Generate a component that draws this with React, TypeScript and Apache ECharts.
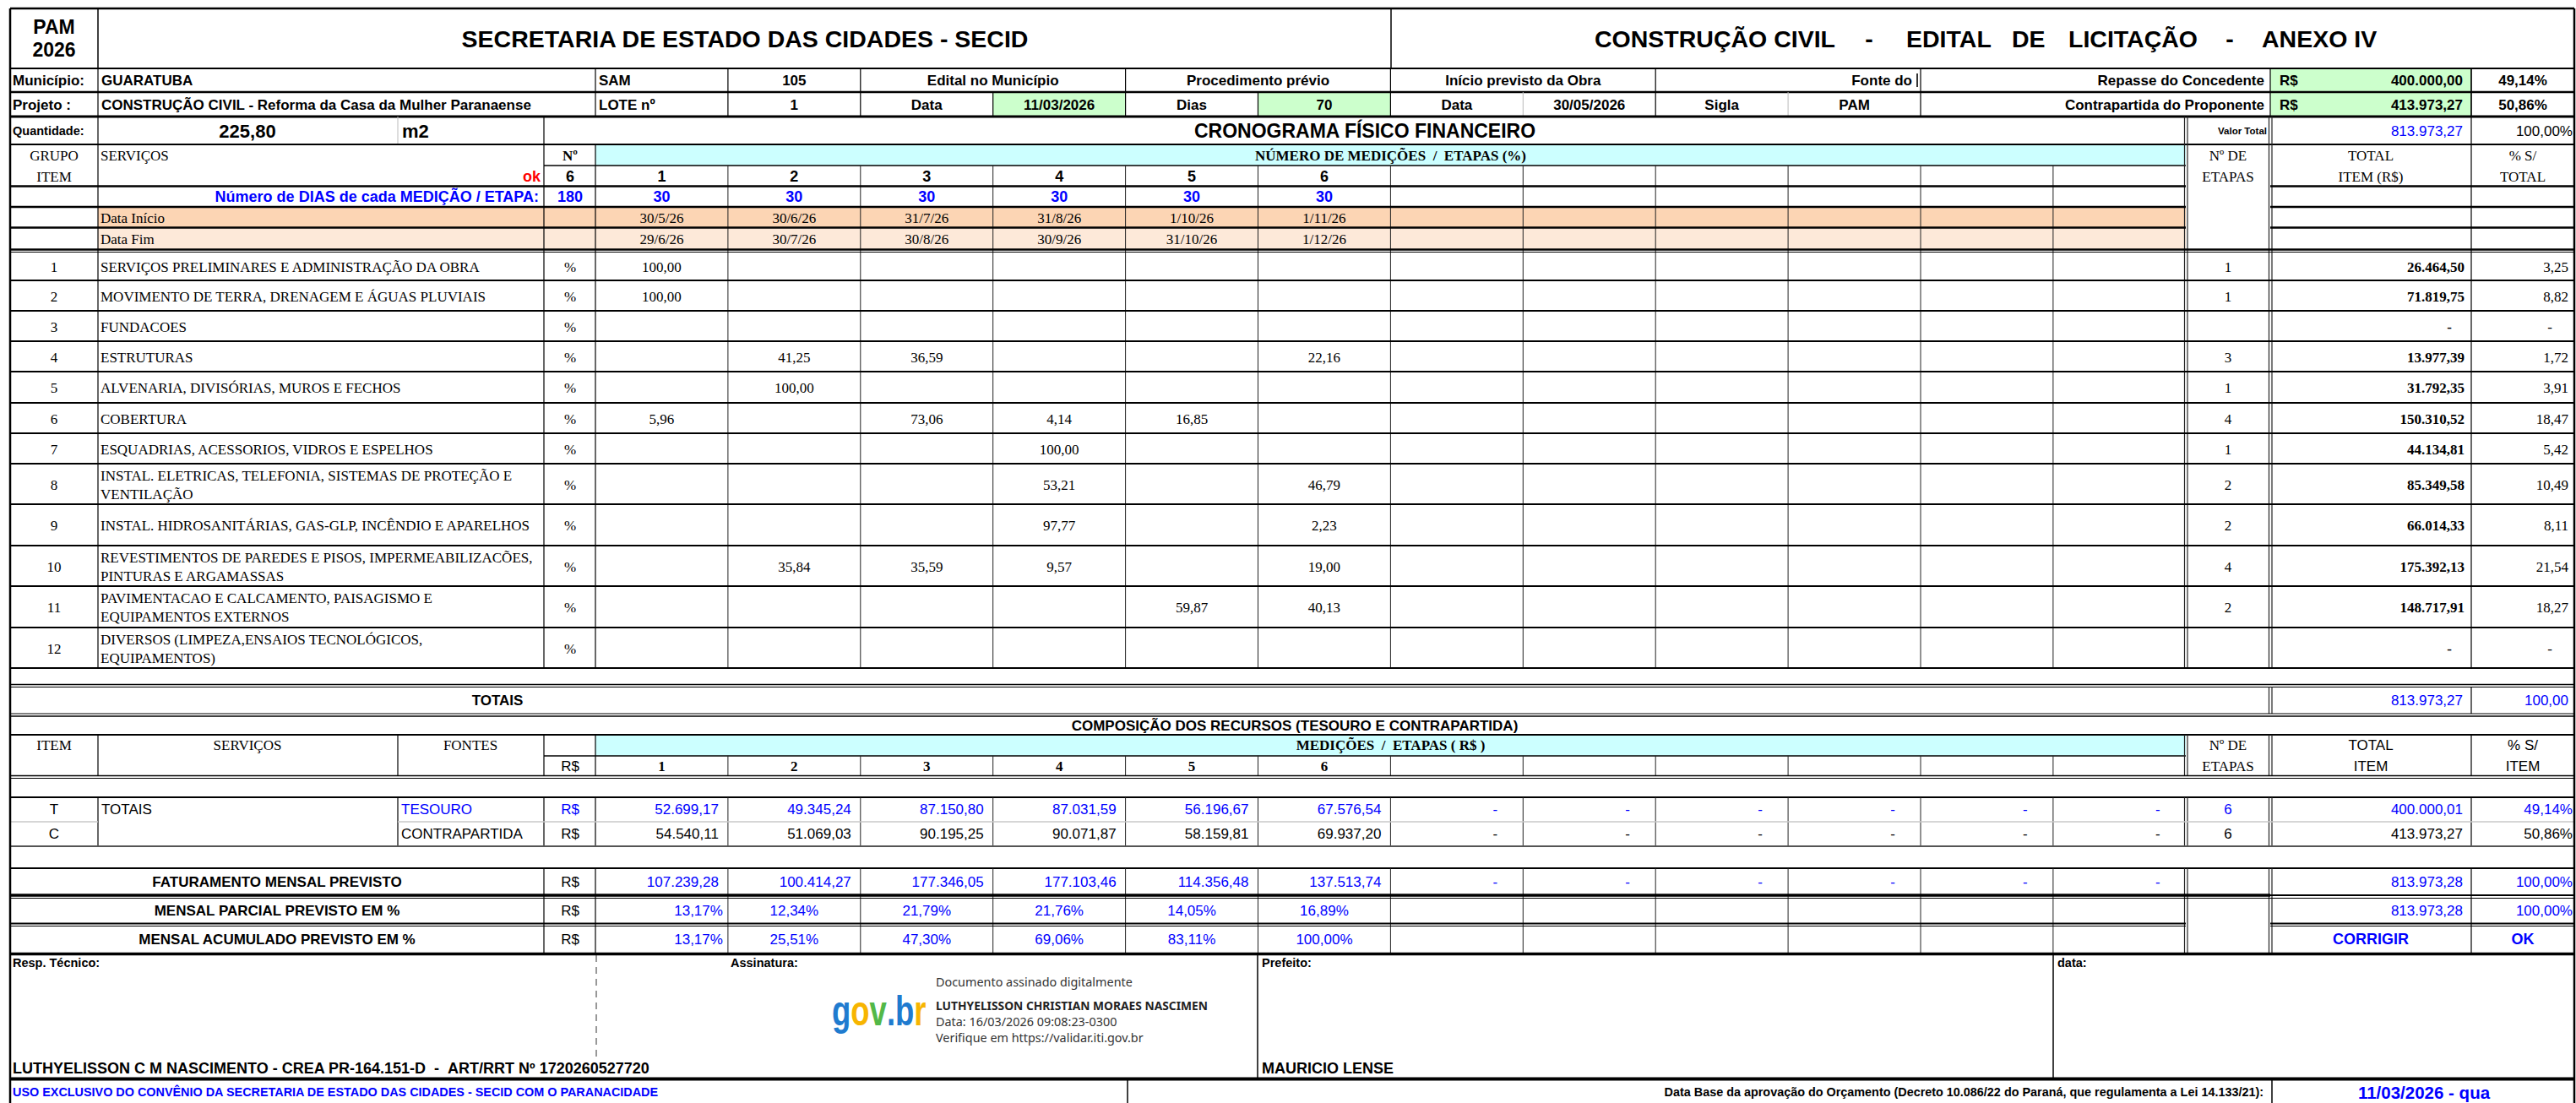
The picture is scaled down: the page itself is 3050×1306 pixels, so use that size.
import React, { useEffect, useRef } from "react";
import * as echarts from "echarts";

// ---------------- DATA ----------------
const medicaoNumeros = [1, 2, 3, 4, 5, 6];
const diasPorEtapa = [30, 30, 30, 30, 30, 30];
const totalDias = 180;
const dataInicio = ["30/5/26", "30/6/26", "31/7/26", "31/8/26", "1/10/26", "1/11/26"];
const dataFim = ["29/6/26", "30/7/26", "30/8/26", "30/9/26", "31/10/26", "1/12/26"];

const itemGrupos = [1, 2, 3, 4, 5, 6, 7, 8, 9, 10, 11, 12];
const itemServicos = [
  "SERVIÇOS PRELIMINARES E ADMINISTRAÇÃO DA OBRA",
  "MOVIMENTO DE TERRA, DRENAGEM E ÁGUAS PLUVIAIS",
  "FUNDACOES",
  "ESTRUTURAS",
  "ALVENARIA, DIVISÓRIAS, MUROS E FECHOS",
  "COBERTURA",
  "ESQUADRIAS, ACESSORIOS, VIDROS E ESPELHOS",
  "INSTAL. ELETRICAS, TELEFONIA, SISTEMAS DE PROTEÇÃO E\nVENTILAÇÃO",
  "INSTAL. HIDROSANITÁRIAS, GAS-GLP, INCÊNDIO E APARELHOS",
  "REVESTIMENTOS DE PAREDES E PISOS, IMPERMEABILIZACÕES,\nPINTURAS E ARGAMASSAS",
  "PAVIMENTACAO E CALCAMENTO, PAISAGISMO E\nEQUIPAMENTOS EXTERNOS",
  "DIVERSOS (LIMPEZA,ENSAIOS TECNOLÓGICOS,\nEQUIPAMENTOS)",
];
const itemPercentuais: (number | null)[][] = [
  [100, null, null, null, null, null],
  [100, null, null, null, null, null],
  [null, null, null, null, null, null],
  [null, 41.25, 36.59, null, null, 22.16],
  [null, 100, null, null, null, null],
  [5.96, null, 73.06, 4.14, 16.85, null],
  [null, null, null, 100, null, null],
  [null, null, null, 53.21, null, 46.79],
  [null, null, null, 97.77, null, 2.23],
  [null, 35.84, 35.59, 9.57, null, 19.0],
  [null, null, null, null, 59.87, 40.13],
  [null, null, null, null, null, null],
];
const itemEtapas = [1, 1, null, 3, 1, 4, 1, 2, 2, 4, 2, null];
const itemTotais = [26464.5, 71819.75, null, 13977.39, 31792.35, 150310.52, 44134.81, 85349.58, 66014.33, 175392.13, 148717.91, null];
const itemPctTotal = [3.25, 8.82, null, 1.72, 3.91, 18.47, 5.42, 10.49, 8.11, 21.54, 18.27, null];

const tesouro = [52699.17, 49345.24, 87150.8, 87031.59, 56196.67, 67576.54];
const contrapartida = [54540.11, 51069.03, 90195.25, 90071.87, 58159.81, 69937.2];
const faturamento = [107239.28, 100414.27, 177346.05, 177103.46, 114356.48, 137513.74];
const parcialPct = [13.17, 12.34, 21.79, 21.76, 14.05, 16.89];
const acumuladoPct = [13.17, 25.51, 47.3, 69.06, 83.11, 100.0];

const repasseConcedente = 400000.0;
const contrapartidaProponente = 413973.27;
const valorTotal = 813973.27;
const pctRepasse = 49.14;
const pctContrapartida = 50.86;
const totalTesouro = 400000.01;
const totalContrapartida = 413973.27;
const totalFaturamento = 813973.28;
const etapasTesouro = 6;
const etapasContrapartida = 6;

// ---------------- HELPERS ----------------
const SANS = "'Liberation Sans', Arial, sans-serif";
const SERIF = "'Liberation Serif', 'Times New Roman', serif";
const NOTO = "'Noto Sans', 'Open Sans', sans-serif";
const BLUE = "#0000FF";

function fmt(v: number | null): string {
  if (v == null) return "-";
  const [i, d] = v.toFixed(2).split(".");
  return i.replace(/\B(?=(\d{3})+(?!\d))/g, ".") + "," + d;
}
function fmtP(v: number): string {
  return v.toFixed(2).replace(".", ",");
}

function buildElements() {
  const fills: any[] = [];
  const lines: any[] = [];
  const texts: any[] = [];

  const R = (x: number, y: number, w: number, h: number, fill: string) =>
    fills.push({ type: "rect", silent: true, shape: { x, y, width: w, height: h }, style: { fill } });
  const L = (x1: number, y1: number, x2: number, y2: number, w = 1, c = "#000", dash?: number[]) =>
    lines.push({ type: "line", silent: true, shape: { x1, y1, x2, y2 }, style: { stroke: c, lineWidth: w, lineDash: dash } });
  const T = (
    x: number,
    y: number,
    text: string,
    size: number,
    o: { b?: boolean; a?: string; c?: string; f?: string; lh?: number; sx?: number } = {}
  ) =>
    texts.push({
      type: "text",
      silent: true,
      x,
      y,
      scaleX: o.sx || 1,
      style: {
        text,
        fill: o.c || "#000",
        fontSize: size,
        fontFamily: o.f || SANS,
        fontWeight: o.b ? "bold" : "normal",
        align: o.a || "left",
        textAlign: o.a || "left",
        verticalAlign: "middle",
        textVerticalAlign: "middle",
        lineHeight: o.lh || Math.round(size * 1.25),
      },
    });

  // columns
  const XL = 12, XA = 116, XB = 471, XS = 644, XN = 705, MW = 156.9;
  const XM = (i: number) => XN + i * MW;
  const XE0 = 2588, XE = 2688, XT = 2926, XR = 3048;
  const colC = (j: number) => XM(j) + MW / 2;
  const H = (y: number, x1 = XL, x2 = XR, w = 2, c = "#000") => L(x1, y, x2, y, w, c);
  const V = (x: number, y1: number, y2: number, w = 1, c = "#000") => L(x, y1, x, y2, w, c);
  const VD = (x: number, y1: number, y2: number) => {
    V(x - 1.5, y1, y2, 1.2, "#222");
    V(x + 2, y1, y2, 1.2, "#222");
  };
  const medV = (y1: number, y2: number) => {
    for (let i = 1; i < 12; i++) V(XM(i), y1, y2, 1, "#222");
  };

  // ---- fills ----
  R(XE, 81, XT - XE, 57, "#CCFFCC");
  R(XM(3), 109, MW, 29, "#CCFFCC");
  R(XM(5), 109, MW, 29, "#CCFFCC");
  R(XN, 171, XE0 - XN, 25, "#CCFFFF");
  R(XA, 246, XE0 - XA, 23, "#FCD5B4");
  R(XA, 270, XE0 - XA, 25, "#FDE9D9");
  R(XN, 870, XE0 - XN, 25, "#CCFFFF");

  // ---- title row ----
  H(10, XL, XR, 2.5);
  V(XA, 10, 81, 1.5);
  V(1647, 10, 81, 1.5);
  H(81, XL, XR, 2);
  T(64, 32, "PAM", 23, { b: true, a: "center" });
  T(64, 59, "2026", 23, { b: true, a: "center" });
  T(882, 46, "SECRETARIA DE ESTADO DAS CIDADES - SECID", 28.5, { b: true, a: "center" });
  T(1888, 46, "CONSTRUÇÃO CIVIL", 28.5, { b: true });
  T(2213, 46, "-", 28.5, { b: true, a: "center" });
  T(2257, 46, "EDITAL", 28.5, { b: true });
  T(2382, 46, "DE", 28.5, { b: true });
  T(2449, 46, "LICITAÇÃO", 28.5, { b: true });
  T(2640, 46, "-", 28.5, { b: true, a: "center" });
  T(2678, 46, "ANEXO IV", 28.5, { b: true });

  // ---- municipio row ----
  [XA, XN, XM(1), XM(2), XM(4), XM(6), XM(8), XM(10), XE, XT].forEach((x) => V(x, 81, 109, 1.2));
  H(109, XL, XR, 2.5);
  T(15, 95, "Município:", 17, { b: true });
  T(120, 95, "GUARATUBA", 17, { b: true });
  T(709, 95, "SAM", 17, { b: true });
  T(colC(1), 95, "105", 17, { b: true, a: "center" });
  T(XM(3), 95, "Edital no Município", 17, { b: true, a: "center" });
  T(XM(5), 95, "Procedimento prévio", 17, { b: true, a: "center" });
  T(XM(7), 95, "Início previsto da Obra", 17, { b: true, a: "center" });
  T(2264, 95, "Fonte do", 17, { b: true, a: "right" });
  V(2270, 87, 103, 1.6);
  T(2681, 95, "Repasse do Concedente", 17, { b: true, a: "right" });
  T(2699, 95, "R$", 17, { b: true });
  T(2916, 95, fmt(repasseConcedente), 17, { b: true, a: "right" });
  T(2987, 95, fmtP(pctRepasse) + "%", 17, { b: true, a: "center" });

  // ---- projeto row ----
  [XA, XN, XM(1), XM(2), XM(3), XM(4), XM(5), XM(6), XM(8), XM(10), XE, XT].forEach((x) => V(x, 109, 138, 1.2));
  V(XM(7), 109, 138, 1, "#bbb");
  V(XM(9), 109, 138, 1, "#bbb");
  H(138, XL, XR, 3);
  T(15, 124, "Projeto :", 17, { b: true });
  T(120, 124, "CONSTRUÇÃO CIVIL - Reforma da Casa da Mulher Paranaense", 17, { b: true });
  T(709, 124, "LOTE nº", 17, { b: true });
  T(colC(1), 124, "1", 17, { b: true, a: "center" });
  T(colC(2), 124, "Data", 17, { b: true, a: "center" });
  T(colC(3), 124, "11/03/2026", 17, { b: true, a: "center" });
  T(colC(4), 124, "Dias", 17, { b: true, a: "center" });
  T(colC(5), 124, "70", 17, { b: true, a: "center" });
  T(colC(6), 124, "Data", 17, { b: true, a: "center" });
  T(colC(7), 124, "30/05/2026", 17, { b: true, a: "center" });
  T(colC(8), 124, "Sigla", 17, { b: true, a: "center" });
  T(colC(9), 124, "PAM", 17, { b: true, a: "center" });
  T(2681, 124, "Contrapartida do Proponente", 17, { b: true, a: "right" });
  T(2699, 124, "R$", 17, { b: true });
  T(2916, 124, fmt(contrapartidaProponente), 17, { b: true, a: "right" });
  T(2987, 124, fmtP(pctContrapartida) + "%", 17, { b: true, a: "center" });

  // ---- quantidade row ----
  V(XA, 138, 171, 1.2);
  V(XB, 138, 171, 1, "#bbb");
  V(XS, 138, 171, 1.2);
  H(171, XL, XR, 2);
  T(15, 155, "Quantidade:", 14.5, { b: true });
  T(293, 155, "225,80", 22, { b: true, a: "center" });
  T(476, 155, "m2", 22, { b: true });
  T(1616, 155, "CRONOGRAMA FÍSICO FINANCEIRO", 23, { b: true, a: "center" });
  T(2684, 155, "Valor Total", 11.5, { b: true, a: "right" });
  T(2916, 155, fmt(valorTotal), 17, { c: BLUE, a: "right" });
  T(3046, 155, "100,00%", 17, { a: "right" });

  // ---- header block (171-295) ----
  V(XA, 171, 791, 1.2);
  V(XS, 171, 791, 1.2);
  V(XN, 171, 791, 1.2);
  H(196, XS, XE0, 1.5);
  medV(196, 791);
  VD(XE0, 138, 791);
  VD(XE, 138, 791);
  V(XT, 81, 791, 1.2);
  [220.5, 245, 269.5].forEach((y) => {
    H(y, XL, XE0, 2.5);
    H(y, XE, XR, 2.5);
  });
  H(295.5, XL, XR, 2.5);
  H(298.5, XL, XR, 1);

  T(64, 184, "GRUPO", 17, { f: SERIF, a: "center" });
  T(64, 209, "ITEM", 17, { f: SERIF, a: "center" });
  T(119, 184, "SERVIÇOS", 17, { f: SERIF });
  T(640, 209, "ok", 18, { b: true, c: "#FF0000", a: "right" });
  T(675, 184, "Nº", 17, { f: SERIF, b: true, a: "center" });
  T(675, 209, String(medicaoNumeros.length), 18, { b: true, a: "center" });
  T((XN + XE0) / 2, 184, "NÚMERO DE MEDIÇÕES  /  ETAPAS (%)", 17, { f: SERIF, b: true, a: "center" });
  medicaoNumeros.forEach((n, j) => T(colC(j), 209, String(n), 18, { b: true, a: "center" }));
  T(2638, 184, "Nº DE", 17, { f: SERIF, a: "center" });
  T(2638, 209, "ETAPAS", 17, { f: SERIF, a: "center" });
  T(2807, 184, "TOTAL", 17, { f: SERIF, a: "center" });
  T(2807, 209, "ITEM (R$)", 17, { f: SERIF, a: "center" });
  T(2987, 184, "% S/", 17, { f: SERIF, a: "center" });
  T(2987, 209, "TOTAL", 17, { f: SERIF, a: "center" });

  T(638, 233, "Número de DIAS de cada MEDIÇÃO / ETAPA:", 18, { b: true, c: BLUE, a: "right" });
  T(675, 233, String(totalDias), 18, { b: true, c: BLUE, a: "center" });
  diasPorEtapa.forEach((d, j) => T(colC(j), 233, String(d), 18, { b: true, c: BLUE, a: "center" }));
  T(119, 258, "Data Início", 17, { f: SERIF });
  dataInicio.forEach((d, j) => T(colC(j), 258, d, 17, { f: SERIF, a: "center" }));
  T(119, 283, "Data Fim", 17, { f: SERIF });
  dataFim.forEach((d, j) => T(colC(j), 283, d, 17, { f: SERIF, a: "center" }));

  // ---- item rows ----
  const rowEdges = [298, 332, 368, 404, 440, 477, 513, 549, 597, 646, 694, 743, 791];
  for (let i = 1; i < rowEdges.length; i++) H(rowEdges[i], XL, XR, 2);
  itemGrupos.forEach((g, i) => {
    const yc = (rowEdges[i] + rowEdges[i + 1]) / 2 + 1;
    T(64, yc, String(g), 17, { f: SERIF, a: "center" });
    T(119, yc, itemServicos[i], 17, { f: SERIF, lh: 22 });
    T(675, yc, "%", 17, { f: SERIF, a: "center" });
    itemPercentuais[i].forEach((v, j) => {
      if (v != null) T(colC(j), yc, fmtP(v), 17, { f: SERIF, a: "center" });
    });
    if (itemEtapas[i] != null) T(2638, yc, String(itemEtapas[i]), 17, { f: SERIF, a: "center" });
    T(itemTotais[i] == null ? 2903 : 2918, yc, fmt(itemTotais[i]), 17, { f: SERIF, b: true, a: "right" });
    T(itemPctTotal[i] == null ? 3022 : 3041, yc, itemPctTotal[i] == null ? "-" : fmtP(itemPctTotal[i] as number), 17, {
      f: SERIF,
      a: "right",
    });
  });

  // ---- totais row ----
  H(810.5, XL, XR, 1.5);
  H(813.5, XL, XR, 1);
  VD(XE, 813, 845);
  V(XT, 813, 845, 1.2);
  H(845, XL, XR, 1);
  H(848, XL, XR, 1.5);
  T(589, 829, "TOTAIS", 17, { b: true, a: "center" });
  T(2916, 829, fmt(valorTotal), 17, { c: BLUE, a: "right" });
  T(3041, 829, "100,00", 17, { c: BLUE, a: "right" });

  // ---- composição ----
  T(1533, 859, "COMPOSIÇÃO DOS RECURSOS (TESOURO E CONTRAPARTIDA)", 17, { b: true, a: "center" });
  H(870, XL, XR, 2);
  [XA, XB, XS, XN].forEach((x) => V(x, 870, 918, 1.2));
  H(895, XS, XE0, 1.5);
  medV(895, 918);
  VD(XE0, 870, 918);
  VD(XE, 870, 918);
  V(XT, 870, 918, 1.2);
  H(918.5, XL, XR, 1.5);
  H(921.5, XL, XR, 1);
  T(64, 882, "ITEM", 17, { f: SERIF, a: "center" });
  T(293, 882, "SERVIÇOS", 17, { f: SERIF, a: "center" });
  T(557, 882, "FONTES", 17, { f: SERIF, a: "center" });
  T(675, 907, "R$", 17, { a: "center" });
  T((XN + XE0) / 2, 882, "MEDIÇÕES  /  ETAPAS ( R$ )", 17, { f: SERIF, b: true, a: "center" });
  medicaoNumeros.forEach((n, j) => T(colC(j), 907, String(n), 17, { f: SERIF, b: true, a: "center" }));
  T(2638, 882, "Nº DE", 17, { f: SERIF, a: "center" });
  T(2638, 907, "ETAPAS", 17, { f: SERIF, a: "center" });
  T(2807, 882, "TOTAL", 17, { a: "center" });
  T(2807, 907, "ITEM", 17, { a: "center" });
  T(2987, 882, "% S/", 17, { a: "center" });
  T(2987, 907, "ITEM", 17, { a: "center" });

  // T / C rows
  H(944, XL, XR, 2);
  [XA, XB, XS, XN].forEach((x) => V(x, 944, 1002, 1.2));
  medV(944, 1002);
  VD(XE0, 944, 1002);
  VD(XE, 944, 1002);
  V(XT, 944, 1002, 1.2);
  H(973, XL, XA, 1.5, "#c8c8c8");
  H(973, XB, XR, 1.5, "#c8c8c8");
  H(1002, XL, XR, 2, "#555");
  const yT = 958, yC = 987;
  T(64, yT, "T", 17, { a: "center" });
  T(64, yC, "C", 17, { a: "center" });
  T(120, yT, "TOTAIS", 17);
  T(475, yT, "TESOURO", 17, { c: BLUE });
  T(475, yC, "CONTRAPARTIDA", 17);
  T(675, yT, "R$", 17, { c: BLUE, a: "center" });
  T(675, yC, "R$", 17, { a: "center" });
  for (let j = 0; j < 12; j++) {
    if (j < tesouro.length) {
      T(XM(j + 1) - 11, yT, fmt(tesouro[j]), 17, { c: BLUE, a: "right" });
      T(XM(j + 1) - 11, yC, fmt(contrapartida[j]), 17, { a: "right" });
    } else {
      T(XM(j + 1) - 33, yT, "-", 17, { c: BLUE, a: "center" });
      T(XM(j + 1) - 33, yC, "-", 17, { a: "center" });
    }
  }
  T(2638, yT, String(etapasTesouro), 17, { c: BLUE, a: "center" });
  T(2638, yC, String(etapasContrapartida), 17, { a: "center" });
  T(2916, yT, fmt(totalTesouro), 17, { c: BLUE, a: "right" });
  T(2916, yC, fmt(totalContrapartida), 17, { a: "right" });
  T(3046, yT, fmtP(pctRepasse) + "%", 17, { c: BLUE, a: "right" });
  T(3046, yC, fmtP(pctContrapartida) + "%", 17, { a: "right" });

  // faturamento / parcial / acumulado
  H(1028, XL, XR, 2);
  V(XS, 1028, 1129, 1.2);
  V(XN, 1028, 1129, 1.2);
  medV(1028, 1129);
  VD(XE0, 1028, 1129);
  VD(XE, 1028, 1129);
  V(XT, 1028, 1129, 1.2);
  H(1060, XL, XE, 3.5);
  H(1060, XE, XR, 2);
  H(1063.5, XL, XR, 1);
  H(1093.5, XL, XE0, 2);
  H(1093.5, XE, XR, 2);
  H(1096.5, XL, XE0, 1);
  H(1096.5, XE, XR, 1);
  H(1129.5, XL, XR, 3.5);

  const yF = 1044, yP = 1078, yAc = 1112;
  T(328, yF, "FATURAMENTO MENSAL PREVISTO", 17, { b: true, a: "center" });
  T(328, yP, "MENSAL PARCIAL PREVISTO EM %", 17, { b: true, a: "center" });
  T(328, yAc, "MENSAL ACUMULADO PREVISTO EM %", 17, { b: true, a: "center" });
  [yF, yP, yAc].forEach((y) => T(675, y, "R$", 17, { a: "center" }));
  for (let j = 0; j < 12; j++) {
    if (j < faturamento.length) T(XM(j + 1) - 11, yF, fmt(faturamento[j]), 17, { c: BLUE, a: "right" });
    else T(XM(j + 1) - 33, yF, "-", 17, { c: BLUE, a: "center" });
  }
  parcialPct.forEach((v, j) => {
    if (j === 0) T(XM(1) - 6, yP, fmtP(v) + "%", 17, { c: BLUE, a: "right" });
    else T(colC(j), yP, fmtP(v) + "%", 17, { c: BLUE, a: "center" });
  });
  acumuladoPct.forEach((v, j) => {
    if (j === 0) T(XM(1) - 6, yAc, fmtP(v) + "%", 17, { c: BLUE, a: "right" });
    else T(colC(j), yAc, fmtP(v) + "%", 17, { c: BLUE, a: "center" });
  });
  T(2916, yF, fmt(totalFaturamento), 17, { c: BLUE, a: "right" });
  T(3046, yF, "100,00%", 17, { c: BLUE, a: "right" });
  T(2916, yP, fmt(totalFaturamento), 17, { c: BLUE, a: "right" });
  T(3046, yP, "100,00%", 17, { c: BLUE, a: "right" });
  T(2807, yAc, "CORRIGIR", 18, { b: true, c: BLUE, a: "center" });
  T(2987, yAc, "OK", 18, { b: true, c: BLUE, a: "center" });

  // ---- signature area ----
  L(706, 1131, 706, 1252, 1, "#333", [8, 6]);
  V(1489, 1131, 1277, 1.5);
  V(2431, 1131, 1277, 1.5);
  H(1277.5, XL, XR, 4);
  T(15, 1140, "Resp. Técnico:", 14.5, { b: true });
  T(865, 1140, "Assinatura:", 14.5, { b: true });
  T(1494, 1140, "Prefeito:", 14.5, { b: true });
  T(2436, 1140, "data:", 14.5, { b: true });

  const logo = [
    { ch: "g", c: "#1F7BCF", w: 0.611 },
    { ch: "o", c: "#F7B500", w: 0.611 },
    { ch: "v", c: "#53B848", w: 0.556 },
    { ch: ".", c: "#1F7BCF", w: 0.278 },
    { ch: "b", c: "#1F7BCF", w: 0.611 },
    { ch: "r", c: "#F7B500", w: 0.389 },
  ];
  let lx = 985;
  logo.forEach((l) => {
    T(lx, 1196, l.ch, 50, { b: true, c: l.c, sx: 0.73 });
    lx += l.w * 50 * 0.73;
  });
  T(1108, 1162, "Documento assinado digitalmente", 14.4, { f: NOTO, c: "#333" });
  T(1108, 1190, "LUTHYELISSON CHRISTIAN MORAES NASCIMEN", 13.8, { f: NOTO, b: true, c: "#222" });
  T(1108, 1209, "Data: 16/03/2026 09:08:23-0300", 14.4, { f: NOTO, c: "#333" });
  T(1108, 1228, "Verifique em https://validar.iti.gov.br", 14.4, { f: NOTO, c: "#333" });
  T(15, 1265, "LUTHYELISSON C M NASCIMENTO - CREA PR-164.151-D\u00a0\u00a0-\u00a0\u00a0ART/RRT Nº 1720260527720", 18, { b: true });
  T(1494, 1265, "MAURICIO LENSE", 18, { b: true });

  // ---- footer ----
  V(1335, 1277, 1306, 1.5);
  V(2690, 1277, 1306, 1.5);
  T(15, 1293, "USO EXCLUSIVO DO CONVÊNIO DA SECRETARIA DE ESTADO DAS CIDADES - SECID COM O PARANACIDADE", 14.4, {
    b: true,
    c: BLUE,
  });
  T(2680, 1293, "Data Base da aprovação do Orçamento (Decreto 10.086/22 do Paraná, que regulamenta a Lei 14.133/21):", 14.4, {
    b: true,
    a: "right",
  });
  T(2870, 1293, "11/03/2026 - qua", 20.5, { b: true, c: BLUE, a: "center" });

  // outer border
  V(XL, 10, 1306, 2.5);
  V(XR, 10, 1306, 2.5);

  return [...fills, ...lines, ...texts];
}

export default function App() {
  const ref = useRef<HTMLDivElement>(null);
  useEffect(() => {
    document.body.style.margin = "0";
    if (!ref.current) return;
    const chart = echarts.init(ref.current, undefined, { renderer: "svg" });
    chart.setOption({
      animation: false,
      backgroundColor: "#FFFFFF",
      graphic: { elements: buildElements() },
    });
    return () => chart.dispose();
  }, []);
  return (
    <div
      ref={ref}
      style={{ position: "absolute", left: 0, top: 0, width: 3050, height: 1306, background: "#fff" }}
    />
  );
}
